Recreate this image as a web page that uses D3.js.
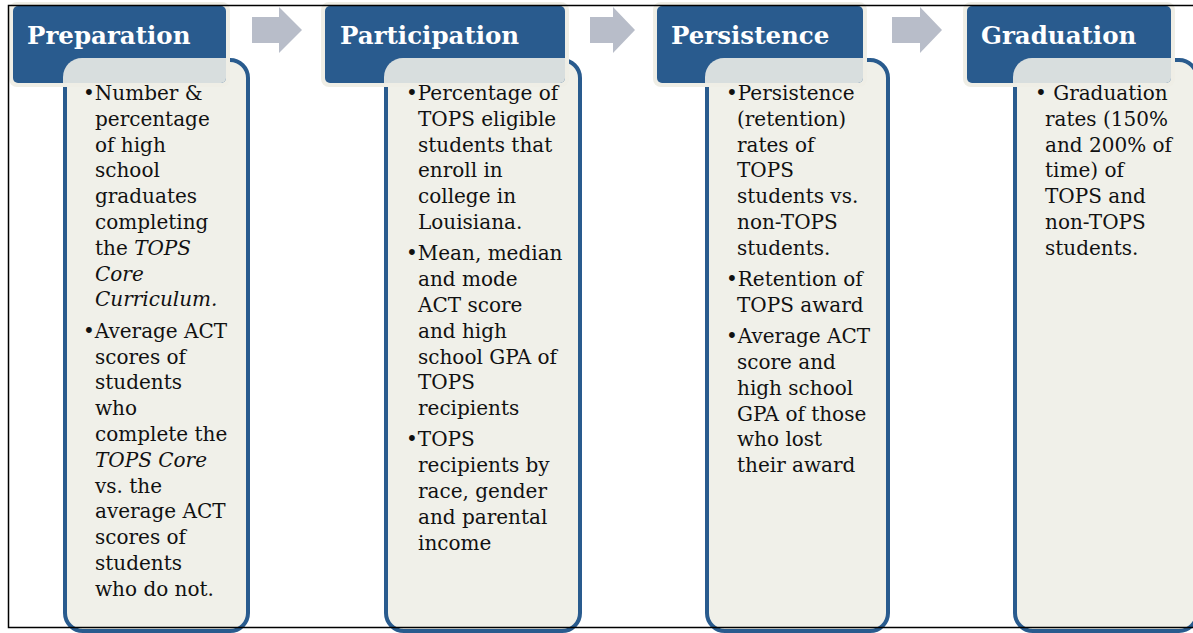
<!DOCTYPE html>
<html>
<head>
<meta charset="utf-8">
<script src="https://cdn.jsdelivr.net/npm/d3@7"></script>
<style>
  body { margin: 0; background: #fff; }
  svg { display: block; }
</style>
</head>
<body>
<svg id="chart"></svg>
<script>
// stage titles
var stages = ["Preparation", "Participation", "Persistence", "Graduation"];

// bullets for each stage, one string per printed line, *..* = italic
var prepItems = [
    ["Number &", "percentage", "of high", "school", "graduates", "completing", "the *TOPS*", "*Core*", "*Curriculum.*"],
    ["Average ACT", "scores of", "students", "who", "complete the", "*TOPS Core*", "vs. the", "average ACT", "scores of", "students", "who do not."]
];
var partItems = [
    ["Percentage of", "TOPS eligible", "students that", "enroll in", "college in", "Louisiana."],
    ["Mean, median", "and mode", "ACT score", "and high", "school GPA of", "TOPS", "recipients"],
    ["TOPS", "recipients by", "race, gender", "and parental", "income"]
];
var persItems = [
    ["Persistence", "(retention)", "rates of", "TOPS", "students vs.", "non-TOPS", "students."],
    ["Retention of", "TOPS award"],
    ["Average ACT", "score and", "high school", "GPA of those", "who lost", "their award"]
];
var gradItems = [
    [" Graduation", "rates (150%", "and 200% of", "time) of", "TOPS and", "non-TOPS", "students."]
];
var items = [prepItems, partItems, persItems, gradItems];

// layout of the columns (pixels)
var headX = [13, 325, 657, 967];
var headW = [213, 240, 206, 204];
var bodyX = [63, 384, 705, 1013];
var bodyW = [187, 198, 185, 186];
var bulletX = [83, 406, 726, 1035];
var textX = [95, 418, 737, 1045];
var titleX = [27, 340, 671, 981];
var arrowX = [[252, 279, 302], [590, 613, 635], [892, 920, 942]];

var width = 1193;
var height = 633;
var blue = "#295b8e";
var cream = "#efeee6";
var boxFill = "#f0f0e9";

var headY = 6, headH = 77;
var bodyY = 58, bodyH = 575;
var lineH = 25.8, bulletGap = 5.5, firstBase = 100;

var svg = d3.select("#chart").attr("width", width).attr("height", height);
var defs = svg.append("defs");

// arrows between stages
svg.append("g")
    .selectAll("polygon")
    .data(arrowX)
    .enter().append("polygon")
    .attr("fill", "#b8bdc9")
    .attr("points", function (a) {
        return [[a[0], 17], [a[1], 17], [a[1], 7], [a[2], 30], [a[1], 53], [a[1], 43], [a[0], 43]].join(" ");
    });

var col = svg.append("g")
    .selectAll("g")
    .data(stages)
    .enter().append("g");

// body boxes
col.append("rect")
    .attr("x", function (d, i) { return bodyX[i] + 2; })
    .attr("y", bodyY + 2)
    .attr("width", function (d, i) { return bodyW[i] - 4; })
    .attr("height", bodyH - 4)
    .attr("rx", 18)
    .attr("fill", boxFill)
    .attr("stroke", blue)
    .attr("stroke-width", 4);

// header boxes: cream edge, blue block
col.append("rect")
    .attr("x", function (d, i) { return headX[i] - 4; })
    .attr("y", headY - 4)
    .attr("width", function (d, i) { return headW[i] + 8; })
    .attr("height", headH + 8)
    .attr("rx", 8)
    .attr("fill", cream);

col.append("rect")
    .attr("x", function (d, i) { return headX[i]; })
    .attr("y", headY)
    .attr("width", function (d, i) { return headW[i]; })
    .attr("height", headH)
    .attr("rx", 5)
    .attr("fill", blue);

// where header and body overlap, the body shows through lightly
col.each(function (d, i) {
    defs.append("clipPath").attr("id", "hc" + i)
        .append("rect")
        .attr("x", headX[i]).attr("y", headY)
        .attr("width", headW[i]).attr("height", headH)
        .attr("rx", 5);
    d3.select(this).append("rect")
        .attr("clip-path", "url(#hc" + i + ")")
        .attr("x", bodyX[i])
        .attr("y", bodyY)
        .attr("width", bodyW[i])
        .attr("height", bodyH)
        .attr("rx", 19)
        .attr("fill", boxFill)
        .attr("opacity", 0.88);
});

// titles
col.append("text")
    .attr("x", function (d, i) { return titleX[i]; })
    .attr("y", 44)
    .attr("fill", "#fff")
    .style("font-family", "'DejaVu Serif', serif")
    .style("font-weight", "bold")
    .style("font-size", "24.5px")
    .text(function (d) { return d; });

// bullet text
col.each(function (d, i) {
    var g = d3.select(this).append("g")
        .style("font-family", "'DejaVu Serif', serif")
        .style("font-size", "20px")
        .attr("fill", "#111");
    var y = firstBase;
    items[i].forEach(function (bullet, b) {
        if (b > 0) y += bulletGap;
        bullet.forEach(function (line, k) {
            var t = g.append("text")
                .attr("x", k === 0 ? bulletX[i] : textX[i])
                .attr("y", y)
                .attr("xml:space", "preserve");
            var parts = (k === 0 ? "\u2022" + line : line).split("*");
            parts.forEach(function (p, j) {
                if (p === "") return;
                t.append("tspan")
                    .style("font-style", j % 2 ? "italic" : "normal")
                    .text(p);
            });
            y += lineH;
        });
    });
});

// outer frame lines
var frame = svg.append("g").attr("stroke", "#000").attr("stroke-width", 1.5).attr("fill", "none");
frame.append("path").attr("d", "M" + width + ",5.5 H8.5 V627.5 H" + width);
</script>
</body>
</html>
